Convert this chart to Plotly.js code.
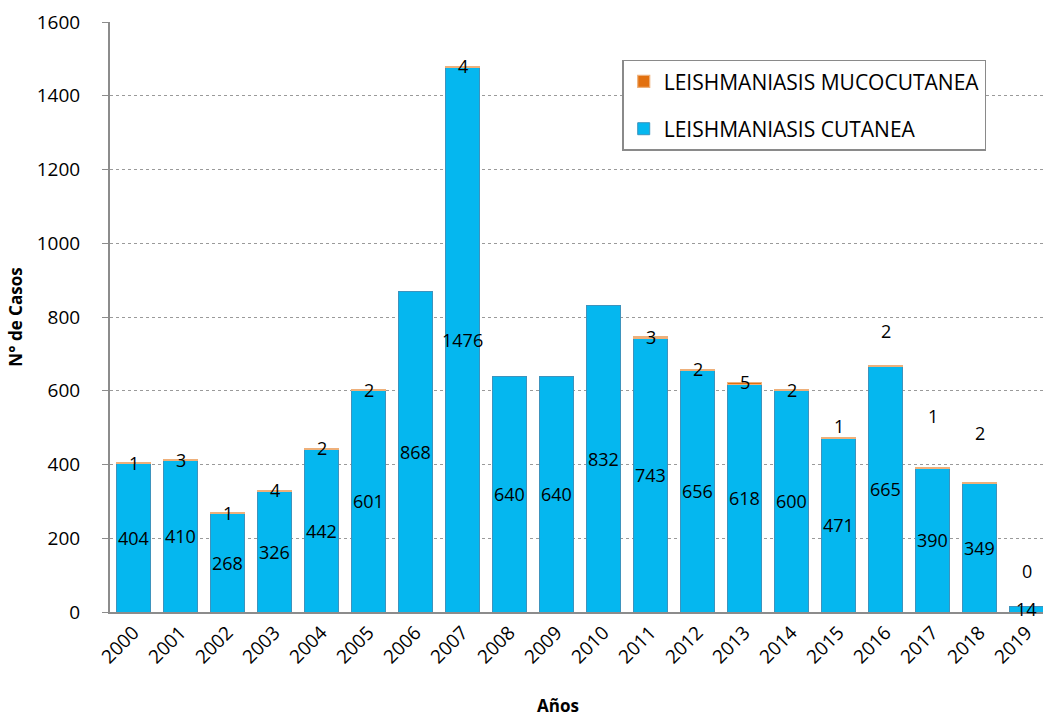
<!DOCTYPE html>
<html>
<head>
<meta charset="utf-8">
<script src="https://cdn.plot.ly/plotly-3.0.1.min.js"></script>
<style>
  html, body { margin: 0; padding: 0; background: #fff; }
  #chart { width: 1043px; height: 722px; }
</style>
</head>
<body>
<div id="chart"></div>
<script>
// Casos de leishmaniasis por año
const years = ['2000', '2001', '2002', '2003', '2004', '2005', '2006', '2007', '2008', '2009',
               '2010', '2011', '2012', '2013', '2014', '2015', '2016', '2017', '2018', '2019'];
const cutanea = [404, 410, 268, 326, 442, 601, 868, 1476, 640, 640,
                 832, 743, 656, 618, 600, 471, 665, 390, 349, 14];
// null = sin etiqueta en el original
const mucocutanea = [1, 3, 1, 4, 2, 2, null, 4, null, null,
                     null, 3, 2, 5, 2, 1, 2, 1, 2, 0];

// how far (px) the muco labels float above the bar top, as in the original
const mucoLabelShift = [0, 0, 0, 0, 0, 0, 0, 0, 0, 0,
                        0, 0, 0, 0, 0, 12, 35, 52, 50, 36];

const numFont = { family: 'Open Sans, sans-serif', size: 18, color: '#000' };

const traceCut = {
    x: years,
    y: cutanea,
    type: 'bar',
    name: 'LEISHMANIASIS CUTANEA',
    legendgroup: 'cut',
    legendrank: 2,
    marker: { color: '#05b7ef', line: { color: '#3d93bd', width: 1 } },
    width: 0.72,
    hoverinfo: 'x+y'
};

const traceMuco = {
    x: years,
    // zero / missing -> no visible cap on the bar
    y: mucocutanea.map(v => v ? v : null),
    type: 'bar',
    name: 'LEISHMANIASIS MUCOCUTANEA',
    legendgroup: 'muco',
    legendrank: 1,
    marker: { color: '#e2700f', line: { color: '#eeb07a', width: 1.2 } },
    width: 0.72,
    hoverinfo: 'x+y'
};

// value labels (x as category index: '2000' would be read as a number)
const annotations = [];
years.forEach((yr, i) => {
    annotations.push({
        x: i, y: cutanea[i] / 2, xref: 'x', yref: 'y',
        text: String(cutanea[i]), showarrow: false,
        font: numFont, yanchor: 'middle'
    });
    if (mucocutanea[i] !== null) {
        annotations.push({
            x: i, y: cutanea[i] + mucocutanea[i], xref: 'x', yref: 'y',
            text: String(mucocutanea[i]), showarrow: false,
            font: numFont, yanchor: 'middle', yshift: mucoLabelShift[i]
        });
    }
});

// x axis title (sits a bit left of centre in the original)
annotations.push({
    xref: 'paper', yref: 'paper', x: 0.48, y: -0.158,
    xanchor: 'center', yanchor: 'middle', showarrow: false,
    text: '<b>Años</b>',
    font: { family: 'Open Sans, sans-serif', size: 17, color: '#000' }
});

const layout = {
    width: 1043,
    height: 722,
    barmode: 'stack',
    paper_bgcolor: '#fff',
    plot_bgcolor: '#fff',
    showlegend: true,
    margin: { l: 110, r: 0, t: 22, b: 110 },
    xaxis: {
        type: 'category',
        range: [-0.5, 19.35],
        tickangle: -45,
        tickfont: { family: 'Open Sans, sans-serif', size: 19, color: '#000' },
        showline: true,
        linecolor: '#8c8c8c',
        linewidth: 2,
        ticks: '',
        showgrid: false,
        fixedrange: true
    },
    yaxis: {
        range: [0, 1600],
        dtick: 200,
        tickfont: { family: 'Open Sans, sans-serif', size: 19, color: '#000' },
        showline: true,
        linecolor: '#8c8c8c',
        linewidth: 2,
        ticks: 'outside',
        ticklen: 6,
        tickcolor: '#8c8c8c',
        ticklabelstandoff: 18,
        gridcolor: '#9a9a9a',
        griddash: 'dot',
        gridwidth: 1,
        zeroline: false,
        title: {
            text: '<b>N° de Casos</b>',
            font: { family: 'Open Sans, sans-serif', size: 17, color: '#000' },
            standoff: 10
        },
        fixedrange: true
    },
    legend: {
        x: 0.549,
        y: 0.936,
        xanchor: 'left',
        yanchor: 'top',
        traceorder: 'grouped',
        tracegroupgap: 17,
        entrywidth: 370,
        entrywidthmode: 'pixels',
        bgcolor: '#fff',
        bordercolor: '#8a8a8a',
        borderwidth: 1.5,
        font: { family: 'Open Sans, sans-serif', size: 21, color: '#000' },
        itemwidth: 30
    },
    annotations: annotations
};

Plotly.newPlot('chart', [traceCut, traceMuco], layout, { displayModeBar: false, staticPlot: true });
</script>
</body>
</html>
